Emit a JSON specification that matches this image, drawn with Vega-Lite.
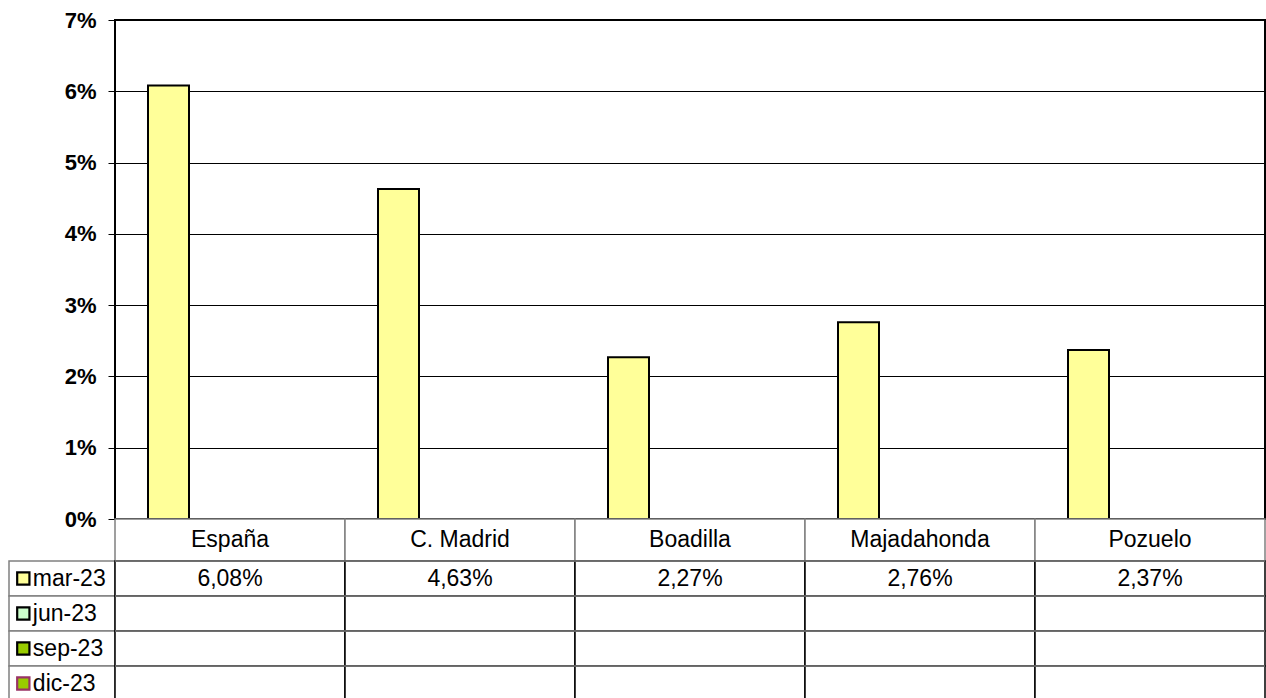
{
  "$schema": "https://vega.github.io/schema/vega-lite/v6.json",
  "padding": {"left": 8, "top": 8, "right": 2, "bottom": 0},
  "autosize": {"type": "pad"},
  "background": "white",
  "datasets": {
    "vals": [
      {"cat": "España", "series": "mar-23", "value": 0.0608},
      {"cat": "C. Madrid", "series": "mar-23", "value": 0.0463},
      {"cat": "Boadilla", "series": "mar-23", "value": 0.0227},
      {"cat": "Majadahonda", "series": "mar-23", "value": 0.0276},
      {"cat": "Pozuelo", "series": "mar-23", "value": 0.0237},
      {"cat": "España", "series": "jun-23", "value": null},
      {"cat": "C. Madrid", "series": "jun-23", "value": null},
      {"cat": "Boadilla", "series": "jun-23", "value": null},
      {"cat": "Majadahonda", "series": "jun-23", "value": null},
      {"cat": "Pozuelo", "series": "jun-23", "value": null},
      {"cat": "España", "series": "sep-23", "value": null},
      {"cat": "C. Madrid", "series": "sep-23", "value": null},
      {"cat": "Boadilla", "series": "sep-23", "value": null},
      {"cat": "Majadahonda", "series": "sep-23", "value": null},
      {"cat": "Pozuelo", "series": "sep-23", "value": null},
      {"cat": "España", "series": "dic-23", "value": null},
      {"cat": "C. Madrid", "series": "dic-23", "value": null},
      {"cat": "Boadilla", "series": "dic-23", "value": null},
      {"cat": "Majadahonda", "series": "dic-23", "value": null},
      {"cat": "Pozuelo", "series": "dic-23", "value": null}
    ]
  },
  "columns": 2,
  "spacing": 0,
  "bounds": "flush",
  "concat": [
    {
      "width": 106,
      "height": 499,
      "view": {"stroke": null},
      "data": {"values": [{"t": ""}]},
      "mark": {"type": "text"},
      "encoding": {"text": {"field": "t"}}
    },
    {
      "width": 1150,
      "height": 499,
      "view": {"stroke": "black", "strokeWidth": 2},
      "data": {"name": "vals"},
      "mark": {"type": "bar", "stroke": "black", "strokeWidth": 2},
      "encoding": {
        "x": {"field": "cat", "type": "nominal", "sort": ["España", "C. Madrid", "Boadilla", "Majadahonda", "Pozuelo"], "scale": {"paddingInner": 0, "paddingOuter": 0}, "axis": null},
        "xOffset": {"field": "series", "type": "nominal", "sort": ["mar-23", "jun-23", "sep-23", "dic-23"], "scale": {"paddingInner": 0, "paddingOuter": 0.805}},
        "y": {
          "field": "value", "type": "quantitative",
          "scale": {"domain": [0, 0.07], "nice": false},
          "axis": {
            "values": [0, 0.01, 0.02, 0.03, 0.04, 0.05, 0.06, 0.07],
            "format": ".0%", "title": null, "domain": false,
            "grid": true, "gridColor": "black", "gridWidth": 1, "gridOpacity": 1,
            "tickColor": "black", "tickSize": 7, "tickWidth": 1,
            "labelFont": "Liberation Sans", "labelFontSize": 22, "labelFontWeight": "bold", "labelColor": "black", "labelPadding": 12
          }
        },
        "fill": {"field": "series", "type": "nominal", "scale": {"domain": ["mar-23", "jun-23", "sep-23", "dic-23"], "range": ["#FFFF99", "#CCFFCC", "#99CC00", "#99CC00"]}, "legend": null}
      }
    },
    {
      "width": 106,
      "height": 42,
      "view": {"stroke": null},
      "data": {"values": [{"t": ""}]},
      "mark": {"type": "text"},
      "encoding": {"text": {"field": "t"}}
    },
    {
      "width": 1150,
      "height": 42,
      "view": {"stroke": null},
      "data": {"name": "vals"},
      "transform": [{"filter": "datum.series == 'mar-23'"}],
      "layer": [
        {
          "mark": {"type": "rect", "fill": "white", "stroke": "#808080", "strokeWidth": 1.5},
          "encoding": {
            "x": {"field": "cat", "type": "nominal", "sort": ["España", "C. Madrid", "Boadilla", "Majadahonda", "Pozuelo"], "scale": {"paddingInner": 0, "paddingOuter": 0}, "axis": null}
          }
        },
        {
          "mark": {"type": "text", "font": "Liberation Sans", "fontSize": 23, "color": "black"},
          "encoding": {
            "x": {"field": "cat", "type": "nominal", "sort": ["España", "C. Madrid", "Boadilla", "Majadahonda", "Pozuelo"], "scale": {"paddingInner": 0, "paddingOuter": 0}, "axis": null},
            "text": {"field": "cat"}
          }
        }
      ]
    },
    {
      "width": 106,
      "height": 140,
      "view": {"stroke": null},
      "data": {"name": "vals"},
      "transform": [{"filter": "datum.cat == 'España'"}],
      "layer": [
        {
          "mark": {"type": "rect", "fill": "white", "stroke": "#808080", "strokeWidth": 1.5},
          "encoding": {
            "y": {"field": "series", "type": "nominal", "scale": {"domain": ["mar-23", "jun-23", "sep-23", "dic-23"], "paddingInner": 0, "paddingOuter": 0}, "axis": null},
            "x": {"datum": 0, "type": "quantitative", "scale": {"domain": [0, 1]}, "axis": null},
            "x2": {"datum": 1}
          }
        },
        {
          "mark": {"type": "point", "shape": "square", "size": 150, "filled": true, "strokeWidth": 2.2, "opacity": 1},
          "encoding": {
            "x": {"datum": 0.135, "type": "quantitative"},
            "y": {"field": "series", "type": "nominal", "scale": {"domain": ["mar-23", "jun-23", "sep-23", "dic-23"], "paddingInner": 0, "paddingOuter": 0}, "axis": null},
            "fill": {"field": "series", "type": "nominal", "scale": {"domain": ["mar-23", "jun-23", "sep-23", "dic-23"], "range": ["#FFFF99", "#CCFFCC", "#99CC00", "#99CC00"]}, "legend": null},
            "stroke": {"field": "series", "type": "nominal", "scale": {"domain": ["mar-23", "jun-23", "sep-23", "dic-23"], "range": ["black", "black", "black", "#993366"]}, "legend": null}
          }
        },
        {
          "mark": {"type": "text", "align": "left", "font": "Liberation Sans", "fontSize": 23, "color": "black"},
          "encoding": {
            "x": {"datum": 0.225, "type": "quantitative"},
            "y": {"field": "series", "type": "nominal", "scale": {"domain": ["mar-23", "jun-23", "sep-23", "dic-23"], "paddingInner": 0, "paddingOuter": 0}, "axis": null},
            "text": {"field": "series"}
          }
        }
      ]
    },
    {
      "width": 1150,
      "height": 140,
      "view": {"stroke": null},
      "data": {"name": "vals"},
      "layer": [
        {
          "mark": {"type": "rect", "fill": "white", "stroke": "black", "strokeWidth": 1.5},
          "encoding": {
            "x": {"field": "cat", "type": "nominal", "sort": ["España", "C. Madrid", "Boadilla", "Majadahonda", "Pozuelo"], "scale": {"paddingInner": 0, "paddingOuter": 0}, "axis": null},
            "y": {"field": "series", "type": "nominal", "scale": {"domain": ["mar-23", "jun-23", "sep-23", "dic-23"], "paddingInner": 0, "paddingOuter": 0}, "axis": null}
          }
        },
        {
          "transform": [{"filter": "datum.cat == 'España'"}],
          "mark": {"type": "rule", "color": "#808080", "strokeWidth": 1.5},
          "encoding": {
            "y": {"field": "series", "type": "nominal", "bandPosition": 0, "scale": {"domain": ["mar-23", "jun-23", "sep-23", "dic-23"], "paddingInner": 0, "paddingOuter": 0}, "axis": null}
          }
        },
        {
          "transform": [{"filter": "isValid(datum.value)"}],
          "mark": {"type": "text", "font": "Liberation Sans", "fontSize": 23, "color": "black"},
          "encoding": {
            "x": {"field": "cat", "type": "nominal", "sort": ["España", "C. Madrid", "Boadilla", "Majadahonda", "Pozuelo"], "scale": {"paddingInner": 0, "paddingOuter": 0}, "axis": null},
            "y": {"field": "series", "type": "nominal", "scale": {"domain": ["mar-23", "jun-23", "sep-23", "dic-23"], "paddingInner": 0, "paddingOuter": 0}, "axis": null},
            "text": {"field": "value", "type": "quantitative", "format": ".2%"}
          }
        }
      ]
    }
  ],
  "config": {
    "locale": {"number": {"decimal": ",", "thousands": ".", "grouping": [3], "currency": ["", " €"]}},
    "font": "Liberation Sans"
  }
}
